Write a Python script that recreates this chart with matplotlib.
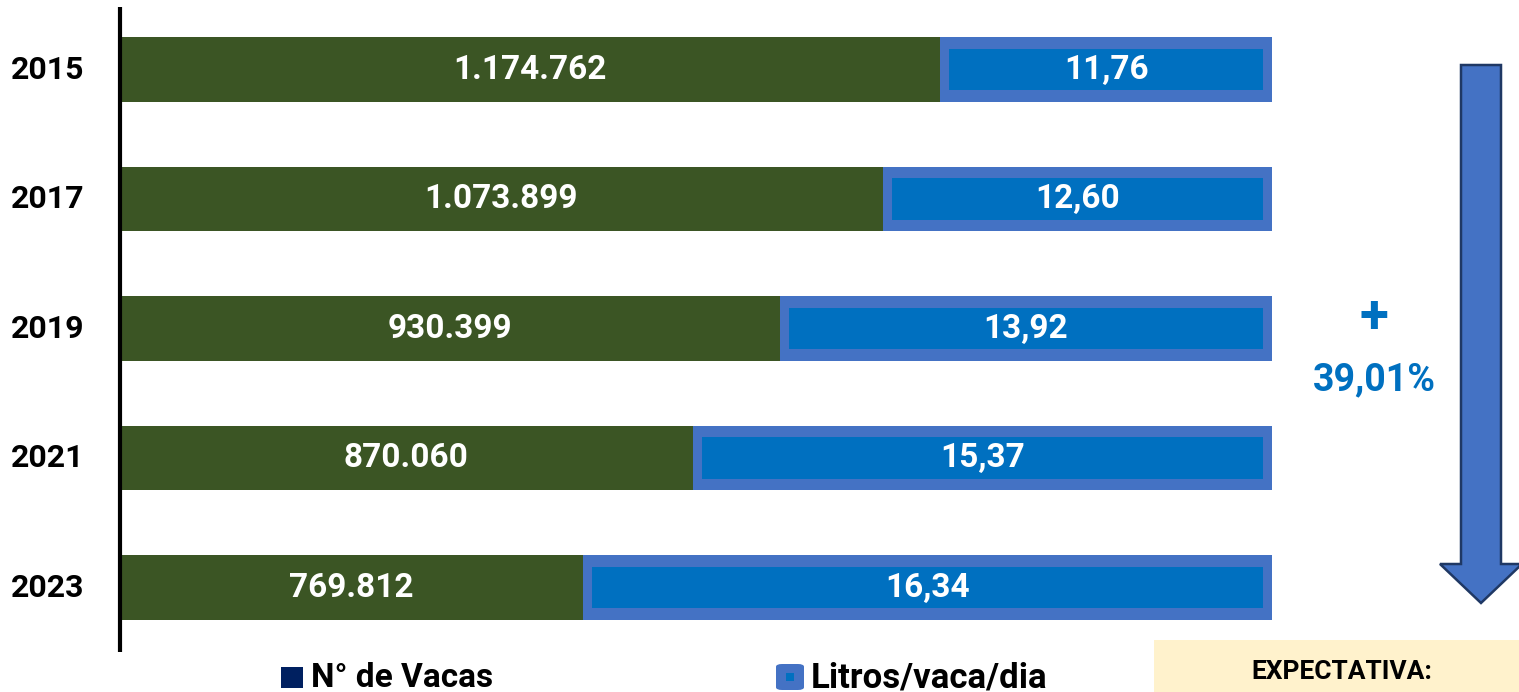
import matplotlib.pyplot as plt
from matplotlib.patches import Polygon, Rectangle, FancyBboxPatch

plt.rcParams['font.family'] = ['Roboto', 'DejaVu Sans']
plt.rcParams['font.weight'] = 'bold'

# dados
anos = ['2015', '2017', '2019', '2021', '2023']
vacas = ['1.174.762', '1.073.899', '930.399', '870.060', '769.812']
litros = ['11,76', '12,60', '13,92', '15,37', '16,34']
# participação (%) da barra verde no total da barra
vacas_pct = [71.2, 66.2, 57.3, 49.7, 40.2]
litros_pct = [100 - v for v in vacas_pct]
variacao = '39,01%'

W, H = 1519, 692
fig = plt.figure(figsize=(W / 100, H / 100), dpi=100)


def fx(x):
    return x / W


def fy(y):
    return 1 - y / H


# eixo: x=120..1272 px, y=7..652 px
ax = fig.add_axes([fx(120), fy(652), (1272 - 120) / W, (652 - 7) / H])
ax.set_xlim(0, 100)
ax.set_ylim(4.498, -0.483)
ax.axis('off')
ax.plot([0, 0], [4.498, -0.483], color='black', lw=3, clip_on=False, solid_capstyle='butt')

verde = '#3B5524'
azul_borda = '#4472C4'
azul = '#0070C0'
pos = list(range(len(anos)))
h_out = 0.50
h_in = 0.32
dx = 9 / 11.52  # recuo interno em unidades do eixo

ax.barh(pos, vacas_pct, height=h_out, color=verde, left=0)
ax.barh(pos, litros_pct, height=h_out, color=azul_borda, left=vacas_pct)
ax.barh(pos, [l - 2 * dx for l in litros_pct], height=h_in, color=azul,
        left=[v + dx for v in vacas_pct])

for i in pos:
    ax.text(vacas_pct[i] / 2, i, vacas[i], ha='center', va='center', color='white',
            fontsize=24, fontweight='bold')
    ax.text(vacas_pct[i] + litros_pct[i] / 2, i, litros[i], ha='center', va='center',
            color='white', fontsize=24, fontweight='bold')
    ax.text(-6.3, i, anos[i], ha='center', va='center', fontsize=23,
            fontweight='bold', color='black', clip_on=False)

# seta
pts = [(1461, 65), (1501, 65), (1501, 564), (1522, 564), (1481, 603),
       (1440, 564), (1461, 564)]
seta = Polygon([(fx(x), fy(y)) for x, y in pts], closed=True, facecolor=azul_borda,
               edgecolor='#1F3864', lw=1.8, transform=fig.transFigure)
fig.patches.append(seta)

fig.text(fx(1374), fy(318), '+', ha='center', va='center', fontsize=38,
         fontweight='bold', color=azul)
fig.text(fx(1374), fy(380), variacao, ha='center', va='center', fontsize=27,
         fontweight='bold', color=azul)

# legenda
fig.patches.append(Rectangle((fx(281), fy(688)), 22 / W, 21 / H, facecolor='#002060',
                             transform=fig.transFigure))
fig.text(fx(311), fy(678), 'N° de Vacas', ha='left', va='center', fontsize=24,
         fontweight='bold', color='black')
fig.patches.append(FancyBboxPatch((fx(776), fy(690)), 28 / W, 26 / H,
                                  boxstyle='round,pad=0,rounding_size=0.004',
                                  facecolor=azul_borda, edgecolor='none',
                                  transform=fig.transFigure))
fig.patches.append(Rectangle((fx(786), fy(681)), 8 / W, 8 / H, facecolor=azul,
                             transform=fig.transFigure))
fig.text(fx(811), fy(678), 'Litros/vaca/dia', ha='left', va='center', fontsize=25,
         fontweight='bold', color='black')

# caixa expectativa
fig.patches.append(Rectangle((fx(1154), 0), (W - 1154) / W, 52 / H, facecolor='#FFF2CC',
                             edgecolor='none', transform=fig.transFigure))
fig.text(fx(1342), fy(672), 'EXPECTATIVA:', ha='center', va='center', fontsize=19,
         fontweight='bold', color='black')

fig.savefig('out.png', dpi=100)
